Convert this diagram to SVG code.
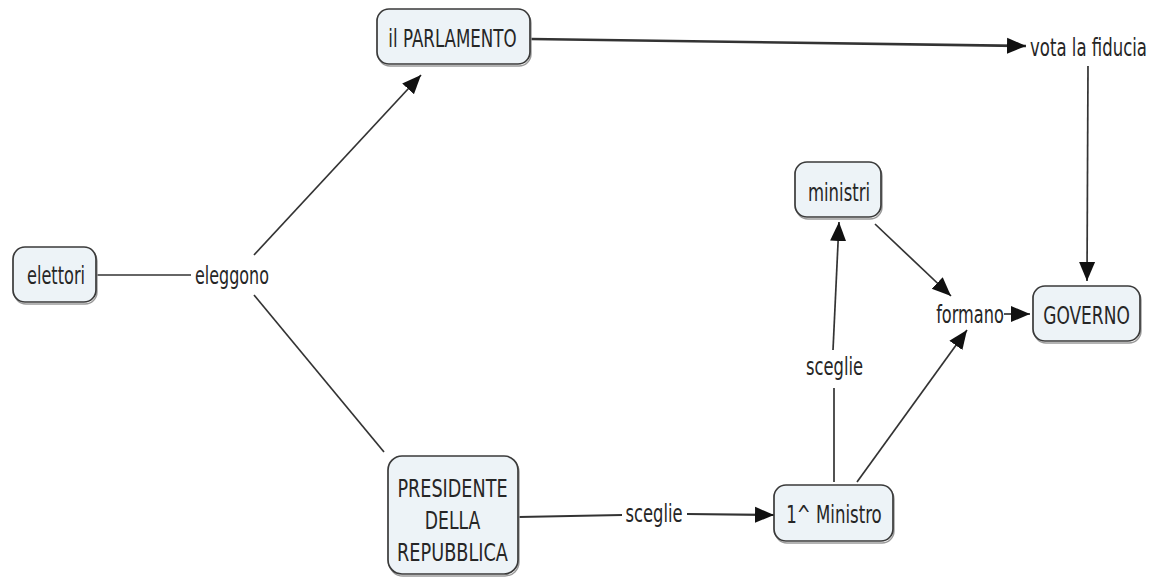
<svg xmlns="http://www.w3.org/2000/svg" width="1151" height="580" viewBox="0 0 1151 580">
<style>
.box{fill:#edf3f7;stroke:#3a3a3a;stroke-width:1.7}
.shadow{fill:none;stroke:#9a9a9a;stroke-width:1.4}
.t{font-family:"DejaVu Sans","Liberation Sans",sans-serif;font-size:25px;fill:#262626;text-anchor:middle}
.c{stroke:#333;stroke-width:1.7;fill:none}
.ca{stroke:#333;stroke-width:1.7;fill:none;marker-end:url(#ah)}
</style>
<defs>
<marker id="ah" markerUnits="userSpaceOnUse" markerWidth="20" markerHeight="18" refX="19" refY="9" orient="auto" viewBox="0 0 20 18">
<path d="M0,1 L19,9 L0,17 Z" fill="#111"/>
</marker>
</defs>
<rect width="1151" height="580" fill="#ffffff"/>
<g id="connectors">
<line class="c" x1="97" y1="275" x2="191" y2="275"/>
<line class="ca" x1="254" y1="255" x2="421" y2="75"/>
<line class="c" x1="254" y1="295" x2="384" y2="452"/>
<line class="ca" x1="531" y1="39" x2="1026" y2="46" style="stroke-width:2.6"/>
<line class="ca" x1="1088" y1="66" x2="1087" y2="281"/>
<line class="c" x1="519" y1="517" x2="622" y2="515" style="stroke-width:2"/>
<line class="ca" x1="687" y1="514" x2="774" y2="515" style="stroke-width:2.2"/>
<line class="c" x1="834" y1="482" x2="834" y2="388"/>
<line class="ca" x1="833" y1="350" x2="839" y2="222"/>
<line class="ca" x1="857" y1="482" x2="967" y2="330"/>
<line class="ca" x1="875" y1="224" x2="951" y2="296"/>
<line class="ca" x1="1004" y1="314" x2="1030" y2="314"/>
</g>
<g id="node-parlamento">
<rect class="shadow" x="378" y="11" width="153" height="55" rx="12"/>
<rect class="box" x="377" y="9" width="153" height="55" rx="12"/>
<text class="t" transform="translate(452.5,47) scale(0.667,1)">il PARLAMENTO</text>
</g>
<g id="node-elettori">
<rect class="shadow" x="14" y="249" width="83" height="55" rx="12"/>
<rect class="box" x="13" y="247" width="83" height="55" rx="12"/>
<text class="t" transform="translate(56,284) scale(0.646,1)">elettori</text>
</g>
<g id="label-eleggono">
<text class="t" transform="translate(232,284) scale(0.638,1)">eleggono</text>
</g>
<g id="label-vota">
<text class="t" transform="translate(1088.5,56) scale(0.661,1)">vota la fiducia</text>
</g>
<g id="node-ministri">
<rect class="shadow" x="796" y="164" width="86" height="55" rx="12"/>
<rect class="box" x="795" y="162" width="86" height="55" rx="12"/>
<text class="t" transform="translate(839,201) scale(0.659,1)">ministri</text>
</g>
<g id="label-formano">
<text class="t" transform="translate(970,323) scale(0.646,1)">formano</text>
</g>
<g id="node-governo">
<rect class="shadow" x="1034" y="288" width="107" height="55" rx="12"/>
<rect class="box" x="1033" y="286" width="107" height="55" rx="12"/>
<text class="t" transform="translate(1086.5,324) scale(0.681,1)">GOVERNO</text>
</g>
<g id="node-presidente">
<rect class="shadow" x="389" y="458" width="130" height="118" rx="14"/>
<rect class="box" x="388" y="456" width="130" height="118" rx="14"/>
<text class="t" transform="translate(452.5,497) scale(0.704,1)">PRESIDENTE</text>
<text class="t" transform="translate(452.5,529) scale(0.69,1)">DELLA</text>
<text class="t" transform="translate(452.5,561) scale(0.708,1)">REPUBBLICA</text>
</g>
<g id="label-sceglie-1">
<text class="t" transform="translate(654,522) scale(0.653,1)">sceglie</text>
</g>
<g id="node-primo-ministro">
<rect class="shadow" x="775" y="487" width="119" height="56" rx="12"/>
<rect class="box" x="774" y="485" width="119" height="56" rx="12"/>
<text class="t" transform="translate(834,523) scale(0.664,1)">1^ Ministro</text>
</g>
<g id="label-sceglie-2">
<text class="t" transform="translate(834.5,375) scale(0.653,1)">sceglie</text>
</g>
</svg>
